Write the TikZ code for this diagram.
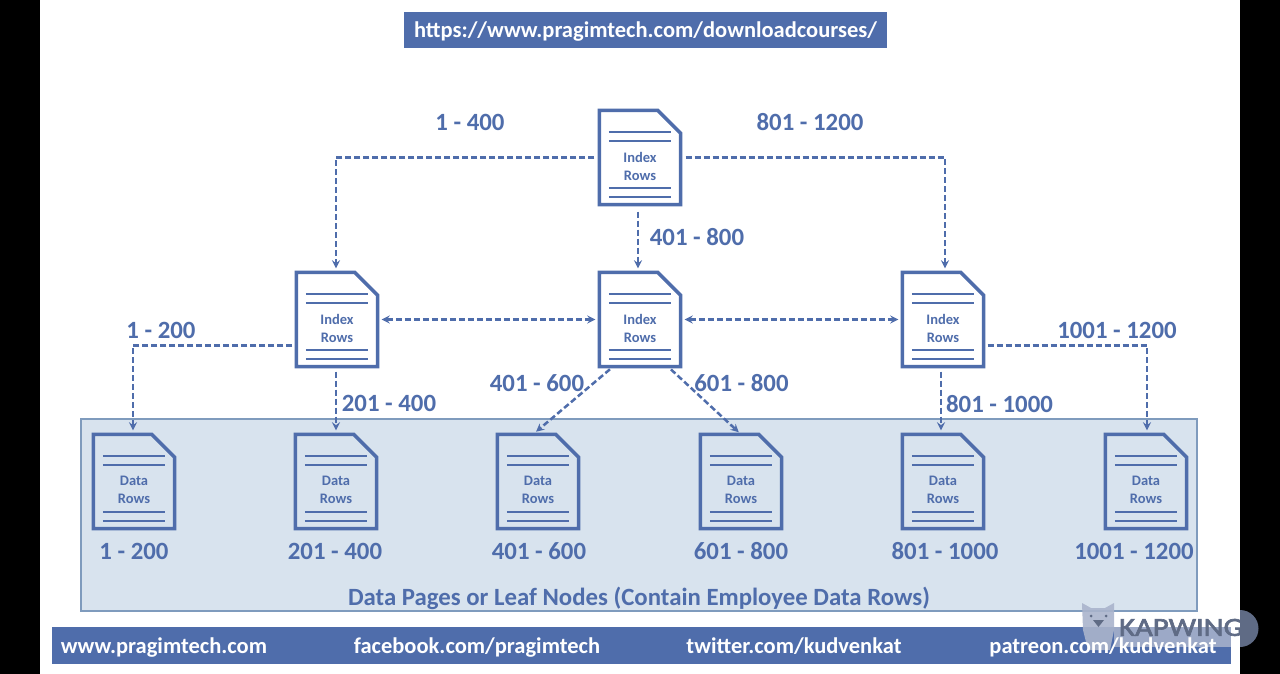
\documentclass[tikz,border=0pt]{standalone}
\usepackage{fontspec}
\setmainfont{Carlito}
\newfontfamily\markfont[FakeBold=2.5,FakeStretch=1.18]{Carlito}
\definecolor{pageblue}{HTML}{4F6DAB}
\definecolor{panefill}{HTML}{D8E3EE}
\definecolor{paneline}{HTML}{7F9BBD}
\definecolor{markgray}{HTML}{5F6B85}
\definecolor{marklight}{HTML}{AAB4CC}
\tikzset{> = stealth}
\tikzset{
  docbox/.style = {minimum width=81pt, minimum height=94pt, inner sep=0pt},
  doctext/.style = {inner sep=0pt, align=center, text=pageblue, font=\bfseries\fontsize{14.5}{18}\selectfont},
  rangetext/.style = {text=pageblue, inner sep=0pt, font=\bfseries\fontsize{24.8}{28}\selectfont},
  bartext/.style = {text=white, inner sep=0pt, anchor=base, font=\bfseries\fontsize{22.5}{26}\selectfont},
  link/.style = {->, dashed, dash pattern=on 6pt off 3pt, line width=2.5pt, pageblue},
  bothlink/.style = {link, <->},
}
% one page: outline, four text rules and its two words
\newcommand{\docpage}[5]{
  \node[docbox] (#1) at (#2, #3) {};
  \node[doctext] (#1text) at ([yshift=-8.5pt]#1.center) {#4\\#5};
  \draw[pageblue, line width=3.5pt, line join=miter]
    (#1.north west) -- ([xshift=-23pt]#1.north east) -- ([yshift=-23pt]#1.north east) -- (#1.south east) -- (#1.south west) -- cycle;
  \draw[pageblue, line width=2pt]
    ([xshift=9.5pt, yshift=-22pt]#1.north west) -- ([xshift=-9.5pt, yshift=-22pt]#1.north east)
    ([xshift=9.5pt, yshift=-31pt]#1.north west) -- ([xshift=-9.5pt, yshift=-31pt]#1.north east)
    ([xshift=9.5pt, yshift=17pt]#1.south west) -- ([xshift=-9.5pt, yshift=17pt]#1.south east)
    ([xshift=9.5pt, yshift=8pt]#1.south west) -- ([xshift=-9.5pt, yshift=8pt]#1.south east);
}

\begin{document}
\begin{tikzpicture}[x=1pt, y=-1pt]
\useasboundingbox (0, 0) rectangle (1280, 674);
% page and bars
\fill[black] (0, 0) rectangle (1280, 674);
\fill[white] (40, 0) rectangle (1240, 674);
\node[fill=pageblue, minimum width=483pt, minimum height=36pt] (urlbar) at (645.5, 30) {};
\node[bartext] (urltext) at (645.5, 37.5) {https://www.pragimtech.com/downloadcourses/};
\node[fill=pageblue, minimum width=1179pt, minimum height=37pt] (footbar) at (641.5, 645.5) {};
\node[fill=panefill, draw=paneline, line width=1.2pt, minimum width=1116pt, minimum height=192pt] (pane) at (639, 515) {};
% index pages
\docpage{rootpage}{640}{157.5}{Index}{Rows}
\docpage{indexa}{337}{319.5}{Index}{Rows}
\docpage{indexb}{640}{319.5}{Index}{Rows}
\docpage{indexc}{943}{319.5}{Index}{Rows}
% data pages
\docpage{dataa}{134}{481.5}{Data}{Rows}
\docpage{datab}{336}{481.5}{Data}{Rows}
\docpage{datac}{538}{481.5}{Data}{Rows}
\docpage{datad}{741}{481.5}{Data}{Rows}
\docpage{datae}{943}{481.5}{Data}{Rows}
\docpage{dataf}{1146}{481.5}{Data}{Rows}
% edges
\draw[link, shorten <=5pt, shorten >=4pt] (rootpage.west) -| ([xshift=-1pt]indexa.north);
\draw[link, shorten <=5pt, shorten >=4pt] (rootpage.east) -| ([xshift=2pt]indexc.north);
\draw[link, shorten <=7pt, shorten >=4pt] ([xshift=-2pt]rootpage.south) -- ([xshift=-2pt]indexb.north);
\draw[bothlink, shorten <=4pt, shorten >=4pt] (indexa.east) -- (indexb.west);
\draw[bothlink, shorten <=4pt, shorten >=4pt] (indexb.east) -- (indexc.west);
\draw[link, shorten <=4pt, shorten >=4pt] ([yshift=-26pt]indexa.west) -| ([xshift=-1pt]dataa.north);
\draw[link, shorten <=5pt, shorten >=4pt] ([xshift=-1pt]indexa.south) -- (datab.north);
\draw[link, shorten <=4pt, shorten >=4pt] ([xshift=-27pt]indexb.south) -- ([xshift=-5pt]datac.north);
\draw[link, shorten <=4pt, shorten >=3pt] ([xshift=28pt]indexb.south) -- (datad.north);
\draw[link, shorten <=5pt, shorten >=4pt] ([xshift=-2pt]indexc.south) -- ([xshift=-2pt]datae.north);
\draw[link, shorten <=4pt, shorten >=4pt] ([yshift=-26pt]indexc.east) -| ([xshift=1pt]dataf.north);
% range labels
\node[rangetext] (lroota) at (470, 122.5) {1 - 400};
\node[rangetext] (lrootc) at (810, 122.5) {801 - 1200};
\node[rangetext] (lrootb) at (697, 237.5) {401 - 800};
\node[rangetext] (ledgea) at (161, 330.5) {1 - 200};
\node[rangetext] (ledgef) at (1117, 330.5) {1001 - 1200};
\node[rangetext] (ledgeb) at (389, 403.5) {201 - 400};
\node[rangetext] (ledgec) at (537, 383.5) {401 - 600};
\node[rangetext] (ledged) at (741.5, 383.5) {601 - 800};
\node[rangetext] (ledgee) at (999.5, 404.5) {801 - 1000};
\node[rangetext] (ldataa) at (134, 551.5) {1 - 200};
\node[rangetext] (ldatab) at (335, 551.5) {201 - 400};
\node[rangetext] (ldatac) at (539, 551.5) {401 - 600};
\node[rangetext] (ldatad) at (741, 551.5) {601 - 800};
\node[rangetext] (ldatae) at (945, 551.5) {801 - 1000};
\node[rangetext] (ldataf) at (1134, 551.5) {1001 - 1200};
\node[rangetext] (panetext) at (639, 598) {Data Pages or Leaf Nodes (Contain Employee Data Rows)};
% watermark under the footer words
\fill[marklight, opacity=.85] (1114, 627) rectangle (1231, 647);
\fill[markgray] (1240, 610) arc[start angle=90, end angle=-90, radius=18.5pt] -- cycle;
\fill[marklight, opacity=.9] (1082, 603) -- (1091, 608) -- (1105, 608) -- (1114, 603) -- (1114, 630) -- (1110, 650) -- (1088, 650) -- (1083, 630) -- cycle;
\fill[markgray] (1091, 616) circle (1.5pt) (1106, 616) circle (1.5pt);
\fill[markgray] (1093, 620) -- (1104, 620) -- (1098.5, 627) -- cycle;
% footer texts
\node[bartext] (foota) at (164, 653) {www.pragimtech.com};
\node[bartext] (footb) at (477, 653) {facebook.com/pragimtech};
\node[bartext] (footc) at (794, 653) {twitter.com/kudvenkat};
\node[bartext] (footd) at (1103, 653) {patreon.com/kudvenkat};
\node[text=markgray, inner sep=0pt, font=\markfont\fontsize{26}{28}\selectfont] (markword) at (1181, 627.5) {KAPWING};
\end{tikzpicture}
\end{document}
